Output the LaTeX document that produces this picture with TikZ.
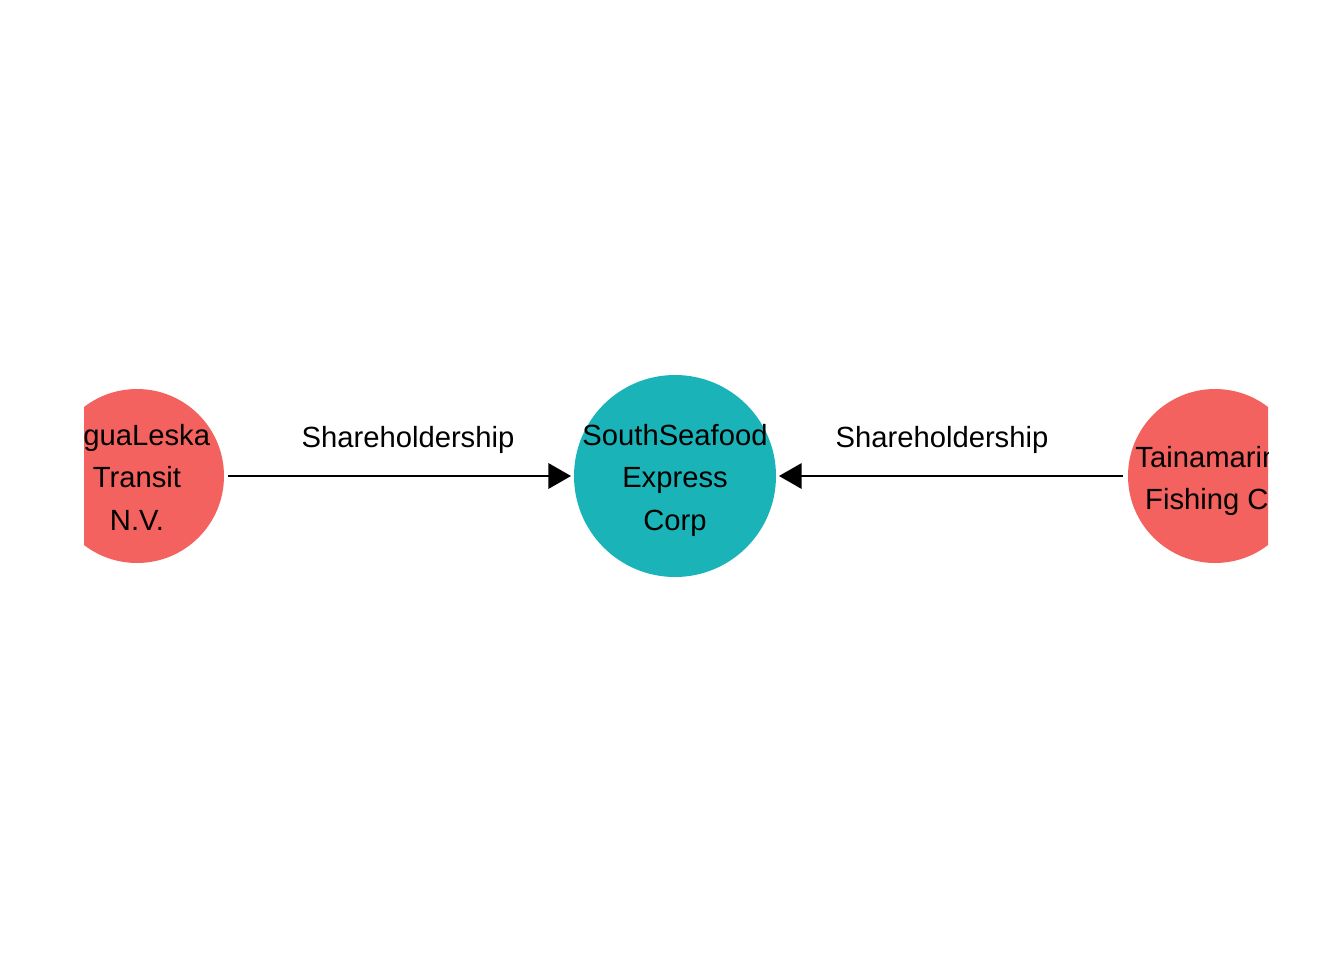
\documentclass[tikz,border=0pt]{standalone}
\usepackage{fontspec}
\setmainfont{Liberation Sans}
\usetikzlibrary{arrows.meta}
\definecolor{nodered}{RGB}{243,98,94}
\definecolor{nodeteal}{RGB}{25,179,184}
\tikzset{
  ent/.style={circle, fill=nodered, draw=none, inner sep=0pt, minimum size=130.5pt},
  hub/.style={circle, fill=nodeteal, draw=none, inner sep=0pt, minimum size=151.5pt},
  ntext/.style={align=center, inner sep=0pt, font=\fontsize{21.9}{31.9}\selectfont},
  link/.style={line width=1.7pt, -{Triangle[length=17pt,width=19pt]}},
  lbl/.style={font=\fontsize{21.9}{26}\selectfont, inner sep=0pt}
}
\begin{document}
\begin{tikzpicture}[x=0.75pt,y=-0.75pt]
\useasboundingbox (0,0) rectangle (1344,960);
\begin{scope}
\clip (84,0) rectangle (1268,960);
\node[ent] (agua) at (137,476) {};
\node[hub] (south) at (675,476) {};
\node[ent] (taina) at (1215,476) {};
\node[ntext] (aguat) at (137,477) {AguaLeska\\Transit\\N.V.};
\node[ntext] (southt) at (675,480) {SouthSeafood\\Express\\Corp};
\node[ntext] (tainat) at (1215,481) {Tainamarine\\Fishing Co};
\draw[link, shorten <=3pt, shorten >=2pt] (agua) -- (south);
\draw[link, shorten <=3.5pt, shorten >=2pt] (taina) -- (south);
\node[lbl] (l1) at (408,440) {Shareholdership};
\node[lbl] (l2) at (942,440) {Shareholdership};
\end{scope}
\end{tikzpicture}
\end{document}
